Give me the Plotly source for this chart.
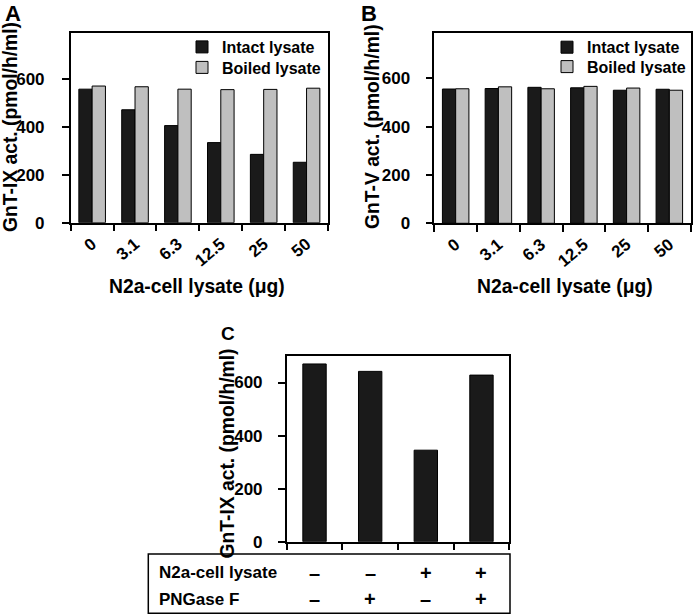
import plotly.graph_objects as go

# ---------------- data ----------------
doses = ["0", "3.1", "6.3", "12.5", "25", "50"]
gnt9_intact = [557, 471, 405, 334, 285, 252]
gnt9_boiled = [570, 567, 557, 555, 556, 561]
gnt5_intact = [556, 558, 563, 561, 551, 555]
gnt5_boiled = [557, 565, 557, 567, 560, 551]
conditions = ["c1", "c2", "c3", "c4"]
gnt9_c = [670, 642, 345, 628]
lysate_row = ["–", "–", "+", "+"]
pngase_row = ["–", "+", "–", "+"]
y_ticks = [0, 200, 400, 600]

W, H = 693, 615
FONT = "Liberation Sans, Arial, Helvetica, sans-serif"
BLACK = "#1a1a1a"
GRAY = "#bfbfbf"


def px(xp):
    return xp / W


def py(yp):
    return 1 - yp / H


fig = go.Figure()

bar_line = dict(color="black", width=1)

fig.add_trace(go.Bar(x=doses, y=gnt9_intact, name="Intact lysate", marker=dict(color=BLACK, line=bar_line),
                     xaxis="x", yaxis="y", legend="legend", offsetgroup="a1"))
fig.add_trace(go.Bar(x=doses, y=gnt9_boiled, name="Boiled lysate", marker=dict(color=GRAY, line=bar_line),
                     xaxis="x", yaxis="y", legend="legend2", offsetgroup="a2"))
fig.add_trace(go.Bar(x=doses, y=gnt5_intact, name="Intact lysate", marker=dict(color=BLACK, line=bar_line),
                     xaxis="x2", yaxis="y2", legend="legend3", offsetgroup="a1"))
fig.add_trace(go.Bar(x=doses, y=gnt5_boiled, name="Boiled lysate", marker=dict(color=GRAY, line=bar_line),
                     xaxis="x2", yaxis="y2", legend="legend4", offsetgroup="a2"))
fig.add_trace(go.Bar(x=conditions, y=gnt9_c, width=0.42, showlegend=False,
                     marker=dict(color=BLACK, line=bar_line), xaxis="x3", yaxis="y3"))

tickfont = dict(family=FONT, size=17, color="black", weight="bold")


def xax(domain, anchor, n, labels):
    return dict(domain=domain, anchor=anchor, type="category", showticklabels=labels,
                range=[-0.5, n - 0.5], tickangle=-40, tickfont=tickfont, ticklabelstandoff=3,
                ticks="outside", tickson="boundaries", ticklen=7, tickwidth=1.5, tickcolor="black",
                showline=True, linecolor="black", linewidth=1.5, mirror=True, showgrid=False,
                zeroline=False, fixedrange=True, automargin=False)


def yax(domain, anchor, rng, standoff):
    return dict(domain=domain, anchor=anchor, range=rng, tickvals=y_ticks, ticks="outside",
                ticklen=7, tickwidth=1.5, tickcolor="black", tickfont=tickfont,
                ticklabelstandoff=standoff,
                showline=True, linecolor="black", linewidth=1.5, mirror=True, showgrid=False,
                zeroline=False, fixedrange=True, automargin=False)


legend_font = dict(family=FONT, size=16, color="black", weight="bold")


def leg(xp, yp):
    return dict(x=px(xp), y=py(yp), xanchor="left", yanchor="middle", font=legend_font,
                bgcolor="rgba(0,0,0,0)", borderwidth=0)


fig.update_layout(
    template="none",
    width=W, height=H, autosize=False,
    margin=dict(l=0, r=0, t=0, b=0, pad=0, autoexpand=False),
    paper_bgcolor="white", plot_bgcolor="white",
    barmode="group", bargap=0.38, bargroupgap=0,
    font=dict(family=FONT, size=16, color="black", weight="bold"),
    xaxis=xax([px(70.7), px(328)], "y", len(doses), True),
    yaxis=yax([py(222.7), py(33.3)], "x", [0, 790], 14),
    xaxis2=xax([px(434.3), px(690.7)], "y2", len(doses), True),
    yaxis2=yax([py(223.3), py(32.5)], "x2", [0, 790], 12),
    xaxis3=xax([px(286.7), px(509.3)], "y3", len(conditions), False),
    yaxis3=yax([py(541.7), py(356)], "x3", [0, 700], 12),
    legend=leg(182, 47),
    legend2=leg(182, 67.5),
    legend3=leg(547, 47.3),
    legend4=leg(547, 66.7),
    showlegend=True,
)

ann = []
title_font = dict(family=FONT, size=19.3, color="black", weight="bold")
letter_font = dict(family=FONT, size=22, color="black", weight="bold")

# panel letters
ann.append(dict(text="A", x=px(3), y=py(-1), xanchor="left", yanchor="top", font=letter_font))
ann.append(dict(text="B", x=px(359), y=py(-1), xanchor="left", yanchor="top", font=letter_font))
ann.append(dict(text="C", x=px(227.5), y=py(321), xanchor="center", yanchor="top",
                font=dict(family=FONT, size=19, color="black", weight="bold")))

# axis titles
ann.append(dict(text="GnT-IX act. (pmol/h/ml)", x=px(10), y=py(127), textangle=-90,
                xanchor="center", yanchor="middle", font=title_font))
ann.append(dict(text="GnT-V act. (pmol/h/ml)", x=px(373), y=py(126), textangle=-90,
                xanchor="center", yanchor="middle", font=title_font))
ann.append(dict(text="GnT-IX act. (pmol/h/ml)", x=px(226.5), y=py(453), textangle=-90,
                xanchor="center", yanchor="middle", font=title_font))
ann.append(dict(text="N2a-cell lysate (μg)", x=px(197), y=py(286), xanchor="center", yanchor="middle",
                font=title_font))
ann.append(dict(text="N2a-cell lysate (μg)", x=px(565), y=py(286), xanchor="center", yanchor="middle",
                font=title_font))

# table rows under panel C
row_font = dict(family=FONT, size=17, color="black", weight="bold")
sign_font = dict(family=FONT, size=20, color="black", weight="bold")
ann.append(dict(text="N2a-cell lysate", x=px(157), y=py(572.7), xanchor="left", yanchor="middle", font=row_font))
ann.append(dict(text="PNGase F", x=px(157), y=py(599.3), xanchor="left", yanchor="middle", font=row_font))
for i, (s1, s2) in enumerate(zip(lysate_row, pngase_row)):
    ann.append(dict(text=s1, x=i, xref="x3", y=py(572.7), yref="paper", xanchor="center", yanchor="middle",
                    font=sign_font))
    ann.append(dict(text=s2, x=i, xref="x3", y=py(599.3), yref="paper", xanchor="center", yanchor="middle",
                    font=sign_font))

for a in ann:
    a.setdefault("xref", "paper")
    a.setdefault("yref", "paper")
    a["showarrow"] = False

fig.update_layout(annotations=ann)

fig.add_shape(type="rect", xref="paper", yref="paper", x0=px(148.3), x1=px(510), y0=py(613.3), y1=py(554),
              line=dict(color="black", width=1.5), fillcolor="rgba(0,0,0,0)")

page_fix = (
    "var d=document.documentElement,b=document.body;"
    "d.style.margin='0';d.style.padding='0';d.style.overflow='hidden';"
    "b.style.margin='0';b.style.padding='0';b.style.overflow='hidden';"
    "var g=document.querySelector('.plotly-graph-div');"
    "if(g){g.style.position='fixed';g.style.top='0';g.style.left='0';}"
)
fig.write_html("out.html", config={"displayModeBar": False, "responsive": False}, post_script=page_fix)
